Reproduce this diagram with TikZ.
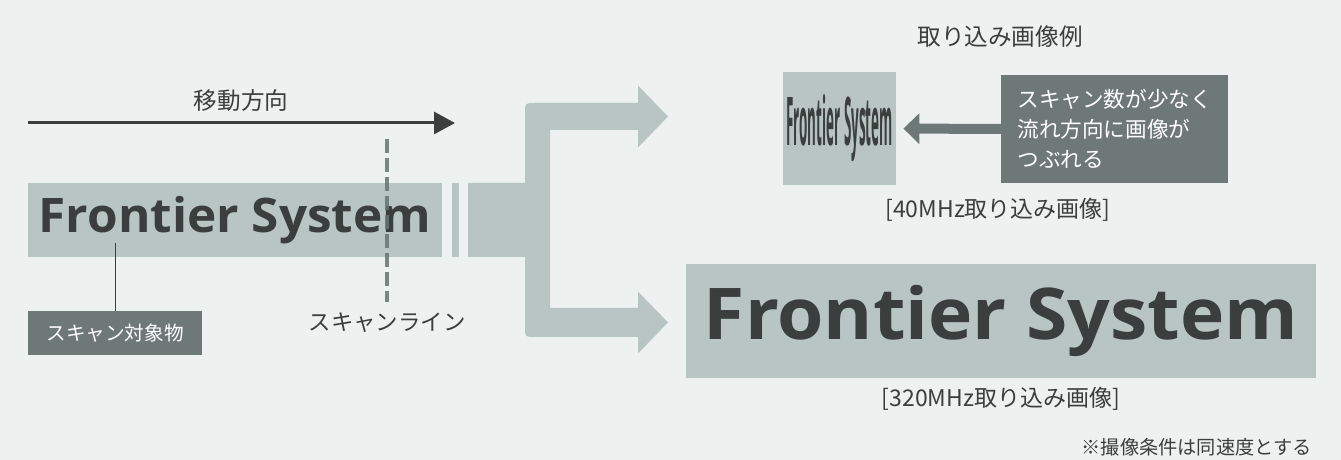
\documentclass[tikz,border=0pt]{standalone}
\usepackage{fontspec}
\setmainfont{Noto Sans CJK JP}
\newfontfamily\logofont{Open Sans}
\usetikzlibrary{arrows.meta,positioning}
\definecolor{paper}{HTML}{EDF1F0}
\definecolor{band}{HTML}{B8C5C2}
\definecolor{ink}{HTML}{3A3F3E}
\definecolor{slate}{HTML}{6E7977}
\definecolor{scanc}{HTML}{66746F}

\begin{document}
\begin{tikzpicture}[
    x=0.5pt, y=-0.5pt,
    every node/.style={inner sep=0pt, text=ink},
    plate/.style={fill=band, inner sep=0pt},
    tag/.style={fill=slate, text=white, inner sep=0pt},
    lbl/.style={font=\fontsize{11.8}{14}\selectfont},
    logo/.style={font=\logofont\bfseries\fontsize{#1}{#1}\selectfont},
    arr/.style={-{Triangle[length=10.5pt, width=11pt]}, line width=1.5pt, draw=ink},
    larr/.style={-{Triangle[length=8pt, width=15pt]}, line width=5pt, draw=slate},
    scan/.style={draw=scanc, opacity=0.85, line width=2.2pt, dash pattern=on 7pt off 2.5pt}
  ]
    \fill[paper] (0,0) rectangle (1341,460);

    % left side: object moving under the scan line
    \node[lbl] (dir) at (241,101) {移動方向};
    \coordinate (dirL) at (28,123);
    \coordinate (dirR) at (455,123);
    \draw[arr] (dirL) -- (dirR);

    \node[plate, minimum width=207pt, minimum height=37pt, logo=23.8] (obj) at (235,220) {\scalebox{1.04}[1]{Frontier System}};
    \fill[band] (452,183) rectangle (459,257);
    \fill[band] (468,183) -- (525,183) -- (525,113) .. controls (525,103) .. (535,103)
      -- (638,103) -- (638,85.5) -- (668,116.5) -- (638,147.5) -- (638,130)
      -- (550,130) -- (550,308) -- (638,308) -- (638,291.5) -- (668,322.5)
      -- (638,353.5) -- (638,337) -- (535,337) .. controls (525,337) .. (525,327)
      -- (525,257) -- (468,257) -- cycle;

    \coordinate (scanT) at (387,139);
    \coordinate (scanB) at (387,302);
    \draw[scan] (scanT) -- (scanB);
    \node[lbl, font=\fontsize{11.2}{13}\selectfont] (scanlbl) at (387,323) {スキャンライン};

    \node[tag, minimum width=87pt, minimum height=22pt, font=\fontsize{9.8}{12}\selectfont] (target) at (115,333) {スキャン対象物};
    \coordinate (objpt) at (115,243);
    \draw[ink, line width=0.5pt] (objpt) -- (target.north);

    % right side: captured images
    \node[lbl] (title) at (1000,37) {取り込み画像例};
    \node[plate, minimum size=56.5pt] (img40) at (839.5,128.5)
      {\scalebox{0.2}[1]{\logofont\bfseries\fontsize{33.6}{34}\selectfont Frontier System}};
    \node[tag, anchor=west, inner xsep=8pt, minimum height=54pt, align=left, font=\fontsize{10.8}{15}\selectfont] (note) at (1001,129)
      {スキャン数が少なく\\流れ方向に画像が\\つぶれる};
    \draw[larr, shorten >=3.5pt] (note.west) -- (img40.east);
    \node[lbl, font=\fontsize{11.5}{14}\selectfont] (cap40) at (998,210) {[40MHz取り込み画像]};

    \node[plate, minimum width=315pt, minimum height=57pt, logo=35.7] (img320) at (1001,321) {\scalebox{1.05}[1]{Frontier System}};
    \node[lbl, font=\fontsize{11.5}{14}\selectfont, below=4pt of img320] (cap320) {[320MHz取り込み画像]};
    \node[anchor=east, font=\fontsize{9.6}{12}\selectfont] (cond) at (1312,447) {※撮像条件は同速度とする};
\end{tikzpicture}
\end{document}
